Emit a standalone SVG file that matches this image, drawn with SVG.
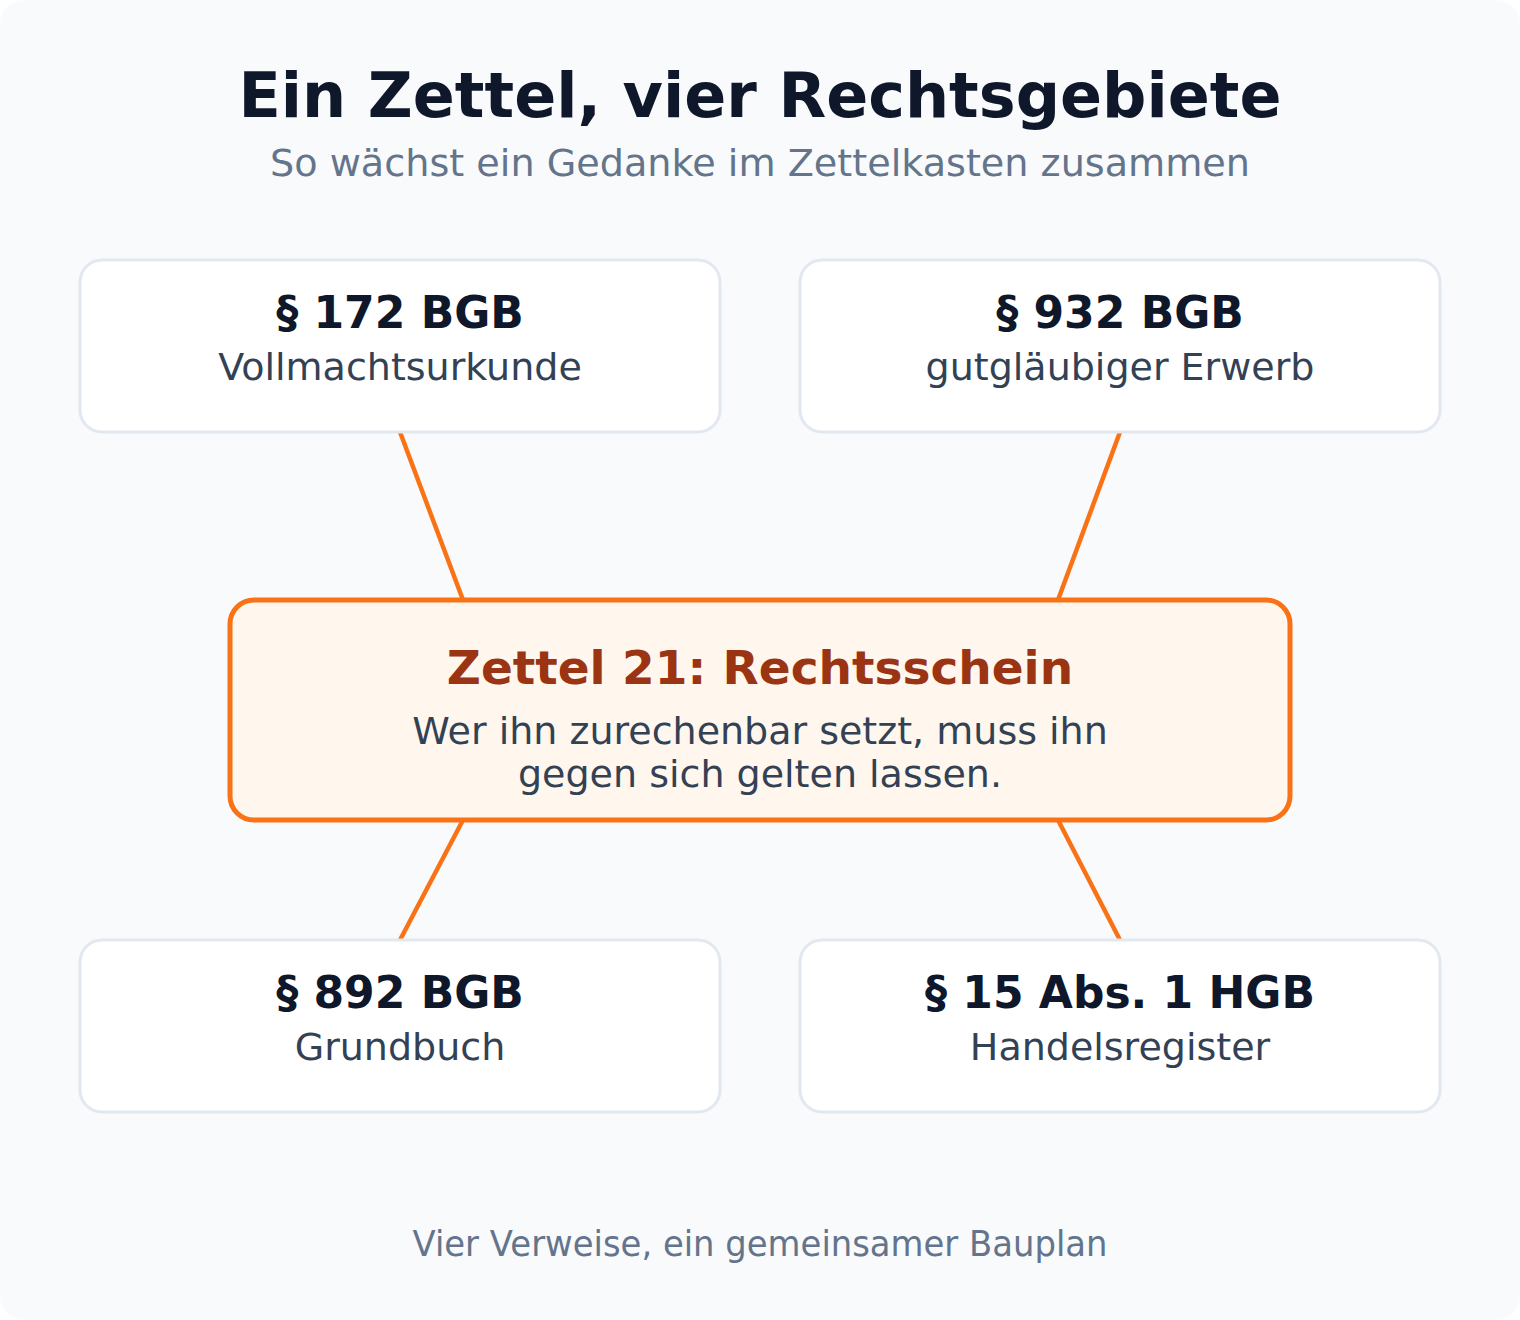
<svg xmlns="http://www.w3.org/2000/svg" width="1520" height="1320" viewBox="0 0 1520 1320">
<style>
text{font-family:"DejaVu Sans","Liberation Sans",sans-serif;text-anchor:middle}
.h1{font-size:62px;font-weight:bold;fill:#0f172a}
.sub{font-size:38px;fill:#64748b}
.nt{font-size:44px;font-weight:bold;fill:#0f172a}
.ns{font-size:38px;fill:#334155}
.ct{font-size:47px;font-weight:bold;fill:#9a3412}
.cb{font-size:38px;fill:#334155}
.ft{font-size:35px;fill:#64748b}
.node{fill:#ffffff;stroke:#e2e8f0;stroke-width:3}
.center{fill:#fff7ed;stroke:#f97316;stroke-width:5}
.link{stroke:#f97316;stroke-width:4.5;fill:none}
</style>
<rect x="0" y="0" width="1520" height="1320" rx="24" fill="#f8fafc"/>
<text class="h1" x="760" y="117">Ein Zettel, vier Rechtsgebiete</text>
<text class="sub" x="760" y="176" textLength="980" lengthAdjust="spacingAndGlyphs">So wächst ein Gedanke im Zettelkasten zusammen</text>
<g id="connectors">
<line class="link" x1="400" y1="432" x2="463" y2="600"/>
<line class="link" x1="1120" y1="432" x2="1058" y2="600"/>
<line class="link" x1="463" y1="820" x2="400" y2="940"/>
<line class="link" x1="1058" y1="820" x2="1120" y2="940"/>
</g>
<g id="n172">
<rect class="node" x="80" y="260" width="640" height="172" rx="22"/>
<text class="nt" x="400" y="328">§ 172 BGB</text>
<text class="ns" x="400" y="380">Vollmachtsurkunde</text>
</g>
<g id="n932">
<rect class="node" x="800" y="260" width="640" height="172" rx="22"/>
<text class="nt" x="1120" y="328">§ 932 BGB</text>
<text class="ns" x="1120" y="380">gutgläubiger Erwerb</text>
</g>
<g id="center">
<rect class="center" x="230" y="600" width="1060" height="220" rx="24"/>
<text class="ct" x="760" y="684">Zettel 21: Rechtsschein</text>
<text class="cb" x="760" y="744">Wer ihn zurechenbar setzt, muss ihn</text>
<text class="cb" x="760" y="787">gegen sich gelten lassen.</text>
</g>
<g id="n892">
<rect class="node" x="80" y="940" width="640" height="172" rx="22"/>
<text class="nt" x="400" y="1008">§ 892 BGB</text>
<text class="ns" x="400" y="1060">Grundbuch</text>
</g>
<g id="n15">
<rect class="node" x="800" y="940" width="640" height="172" rx="22"/>
<text class="nt" x="1120" y="1008">§ 15 Abs. 1 HGB</text>
<text class="ns" x="1120" y="1060">Handelsregister</text>
</g>
<text class="ft" x="760" y="1256" textLength="695" lengthAdjust="spacingAndGlyphs">Vier Verweise, ein gemeinsamer Bauplan</text>
</svg>
